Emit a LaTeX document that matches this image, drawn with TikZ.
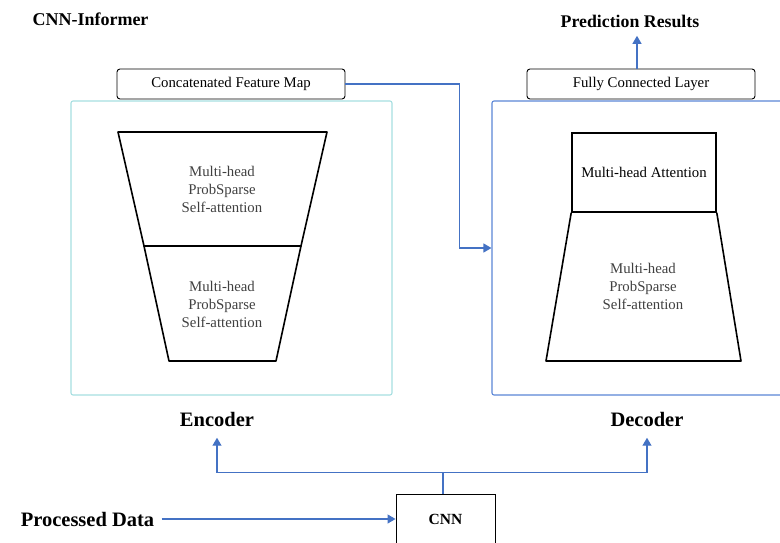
\documentclass[tikz,border=0pt]{standalone}
\usepackage{fontspec}
\setmainfont{Liberation Serif}
\usepackage{xcolor}
\definecolor{colorLink}{HTML}{4472C4}
\definecolor{colorEncoder}{HTML}{A6DEE0}
\definecolor{colorDecoder}{HTML}{5A86D6}
\definecolor{colorLayer}{HTML}{404040}
\usepackage{tikz}
\usetikzlibrary{arrows.meta, positioning}
\tikzset{
  textbox/.style={draw, rounded corners=3pt, line width=0.9pt, minimum width=228pt, minimum height=30pt, inner sep=0pt},
  layertext/.style={text=colorLayer, align=center, font=\fontsize{14.8}{18}\selectfont},
  headline/.style={font=\bfseries\fontsize{20.5}{24}\selectfont},
  link/.style={->, colorLink, line width=1.2pt},
}

\begin{document}
\begin{tikzpicture}[x=1pt, y=-1pt, >={Triangle[length=8pt,width=9pt]}, every node/.style={font=\fontsize{14.8}{18}\selectfont}]
\useasboundingbox (0,0) rectangle (780,543);
\node[anchor=west, font=\bfseries\fontsize{18}{21}\selectfont] (title) at (29,19) {CNN-Informer};
\node[draw=colorEncoder, line width=1.1pt, rounded corners=2pt, minimum width=321pt, minimum height=294pt] (encframe) at (231.5,248) {};
\node[draw=colorDecoder, line width=1.1pt, rounded corners=2pt, minimum width=310pt, minimum height=294pt] (decframe) at (647,248) {};
\node[textbox] (concat) at (231,84) {Concatenated Feature Map};
\node[textbox] (fc) at (641,84) {Fully Connected Layer};
\node[headline, font=\bfseries\fontsize{17.8}{21}\selectfont] (pred) at (630,21) {Prediction Results};
\draw[line width=1.6pt, line join=round] (118,132) -- (327,132) -- (301,246) -- (144,246) -- cycle;
\draw[line width=1.6pt, line join=round] (144,246) -- (169,361) -- (276,361) -- (301,246);
\node[layertext] (encup) at (222,189) {Multi-head\\ProbSparse\\Self-attention};
\node[layertext] (enclow) at (222,304) {Multi-head\\ProbSparse\\Self-attention};
\node[draw, line width=1.6pt, minimum width=144pt, minimum height=79pt] (mha) at (644,172.5) {Multi-head Attention};
\draw[line width=1.6pt, line join=round] (mha.south west) -- (546,361) -- (741,361) -- (mha.south east);
\node[layertext] (decself) at (643,286) {Multi-head\\ProbSparse\\Self-attention};
\node[headline] (enclabel) at (217,419) {Encoder};
\node[headline] (declabel) at (647,419) {Decoder};
\node[draw, line width=0.9pt, minimum width=99pt, minimum height=50pt, font=\bfseries\fontsize{15.5}{18}\selectfont] (cnn) at (445.5,519) {CNN};
\node[headline] (data) at (87.5,519) {Processed Data};
\draw[link] (concat.east) -- ++(114,0) |- (decframe.west);
\draw[link, shorten >=5pt] ([xshift=-4pt]fc.north) -- ([xshift=-4pt]fc.north |- pred.south);
\draw[link] ([xshift=4pt]data.east) -- (cnn.west);
\draw[colorLink, line width=1.2pt] ([xshift=-2.5pt]cnn.north) -- ++(0,-21) coordinate (split);
\draw[link, shorten >=8pt] (split) -| (enclabel);
\draw[link, shorten >=8pt] (split) -| (declabel);
\end{tikzpicture}
\end{document}
